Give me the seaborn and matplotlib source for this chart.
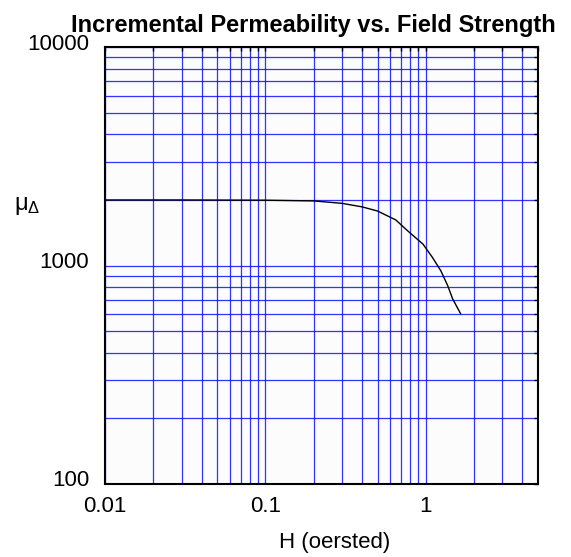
import numpy as np
import pandas as pd
import matplotlib
matplotlib.use('Agg')
import matplotlib.pyplot as plt
import matplotlib.ticker as mticker
from matplotlib.transforms import ScaledTranslation
import seaborn as sns

sns.set_style('white')
plt.rcParams['font.family'] = ['Liberation Sans', 'DejaVu Sans']
plt.rcParams['mathtext.fontset'] = 'custom'
plt.rcParams['mathtext.rm'] = 'Liberation Sans'
plt.rcParams['mathtext.it'] = 'Liberation Sans'
for key in ['text.color', 'axes.labelcolor', 'xtick.color', 'ytick.color']:
    plt.rcParams[key] = 'black'

# values
field_h = [0.01, 0.03, 0.1, 0.2, 0.3, 0.4, 0.5, 0.65, 0.77, 0.96,
           1.1, 1.24, 1.37, 1.47, 1.56, 1.65]
mu_delta = [2000, 2000, 1995, 1980, 1930, 1860, 1780, 1620, 1445, 1256,
            1091, 949, 810, 705, 650, 602]

x_ticks = [0.01, 0.1, 1]
y_ticks = [100, 1000, 10000]

df = pd.DataFrame({'H': field_h, 'mu': mu_delta})

fig = plt.figure(figsize=(5.71, 5.57), dpi=100)
ax = fig.add_axes([0.184, 0.131, 0.758, 0.784])
ax.set_facecolor('#fcfcfc')

ax.set_xscale('log')
ax.set_yscale('log')
ax.set_xlim(0.01, 5)
ax.set_ylim(100, 10000)

ax.xaxis.set_major_locator(mticker.FixedLocator(x_ticks))
ax.yaxis.set_major_locator(mticker.FixedLocator(y_ticks))
ax.xaxis.set_minor_locator(mticker.LogLocator(base=10, subs=np.arange(2, 10), numticks=20))
ax.yaxis.set_minor_locator(mticker.LogLocator(base=10, subs=np.arange(2, 10), numticks=20))
fmt = mticker.FuncFormatter(lambda v, _: f'{v:g}')
ax.xaxis.set_major_formatter(fmt)
ax.yaxis.set_major_formatter(fmt)
ax.xaxis.set_minor_formatter(mticker.NullFormatter())
ax.yaxis.set_minor_formatter(mticker.NullFormatter())

ax.grid(True, which='both', color='#0000ff', linewidth=0.9, alpha=0.8)
ax.set_axisbelow(True)

sns.lineplot(data=df, x='H', y='mu', ax=ax, color='black', linewidth=1.0,
             sort=False, zorder=5)

ax.tick_params(which='both', direction='in', length=3, width=1, color='black',
               top=True, right=True, bottom=False, left=False)
ax.tick_params(axis='y', which='major', pad=11.5, labelsize=16)
ax.tick_params(axis='x', which='major', pad=8.5, labelsize=16)
for lab in ax.get_yticklabels():
    lab.set_transform(lab.get_transform() + ScaledTranslation(0, 4 / 72, fig.dpi_scale_trans))

for sp in ax.spines.values():
    sp.set_color('black')
    sp.set_linewidth(1.5)

ax.set_title('Incremental Permeability vs. Field Strength', fontsize=17,
             fontweight='bold', pad=11, x=0.4815, color='black')
ax.set_xlabel('H (oersted)', fontsize=16, va='center')
ax.xaxis.set_label_coords(0.531, -0.135)
ax.set_ylabel(r'$\mathrm{\mu}_{\Delta}$', fontsize=17, rotation=0, va='center')
ax.yaxis.set_label_coords(-0.18, 0.637)

fig.savefig('out.png', dpi=100)
